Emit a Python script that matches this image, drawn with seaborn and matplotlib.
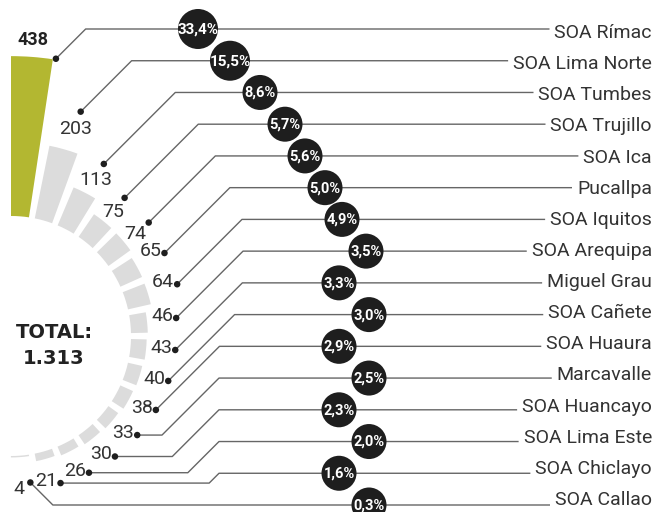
import numpy as np
import pandas as pd
import matplotlib
matplotlib.use("Agg")
import matplotlib.pyplot as plt
import seaborn as sns

offices = ["SOA Rímac", "SOA Lima Norte", "SOA Tumbes", "SOA Trujillo", "SOA Ica",
           "Pucallpa", "SOA Iquitos", "SOA Arequipa", "Miguel Grau", "SOA Cañete",
           "SOA Huaura", "Marcavalle", "SOA Huancayo", "SOA Lima Este",
           "SOA Chiclayo", "SOA Callao"]
counts = [438, 203, 113, 75, 74, 65, 64, 46, 43, 40, 38, 33, 30, 26, 21, 4]
total_label = "1.313"

sns.set_theme(style="white")
plt.rcParams["font.family"] = ["Roboto", "DejaVu Sans"]

df = pd.DataFrame({"office": offices, "count": counts})
total = df["count"].sum()
df["share"] = (100 * df["count"] / total).round(1)
df["share_txt"] = df["share"].map(lambda v: f"{v:.1f}%".replace(".", ","))

# layout (pixels)
W, H = 654, 512
cx, cy = 11, 336          # centre of the half ring
r0 = 120                  # inner radius
k = 0.365                 # pixels per unit
bar_w = np.deg2rad(8.6)
slot = np.deg2rad(11.43)
olive = "#b3b731"
grey = "#dcdcdc"
ink = "#333333"

fig = plt.figure(figsize=(W / 100, H / 100), dpi=100)
ax = fig.add_axes([0, 0, 1, 1])
ax.set_xlim(0, W)
ax.set_ylim(H, 0)
ax.axis("off")

R = 320
pax = fig.add_axes([(cx - R) / W, (H - cy - R) / H, 2 * R / W, 2 * R / H],
                   projection="polar")
pax.set_theta_zero_location("N")
pax.set_theta_direction(-1)
pax.set_ylim(0, R)
pax.axis("off")
pax.patch.set_alpha(0)

n = len(df)
theta = np.arange(n) * slot
colors = [olive] + [grey] * (n - 1)
pax.bar(theta, df["count"] * k, width=bar_w, bottom=r0, align="edge",
        color=colors, edgecolor="none")

# dot positions near each bar
tip = r0 + df["count"].to_numpy() * k
ang = 0.97 * (theta + bar_w / 2) + np.deg2rad(2)
rdot = tip + 26 + 0.2 * (tip - r0)
ang[0] = theta[0] + bar_w + np.deg2rad(0.6)
rdot[0] = tip[0] + 1
df["dx"] = cx + rdot * np.sin(ang)
df["dy"] = cy - rdot * np.cos(ang)

line_y = np.linspace(29, 505, n)
text_y = np.linspace(33, 500, n)
badge_x = [198, 230, 260, 285, 305, 325, 342, 366,
           339, 369, 339, 369, 339, 369, 339, 369]
badge_px = [40, 40] + [35] * (n - 2)
X0 = 219

renderer = fig.canvas.get_renderer()
for i, row in df.iterrows():
    ly = line_y[i]
    t = ax.text(652, text_y[i], row["office"], ha="right", va="center",
                fontsize=14, color=ink)
    bb = t.get_window_extent(renderer)
    x_end = bb.x0 - 5
    dx, dy = row["dx"], row["dy"]
    if dy > ly:
        xh = max(dx, X0 - (dy - ly)) if ang[i] > np.deg2rad(125) else dx
        xs = [dx, xh, xh + (dy - ly), x_end]
        ys = [dy, dy, ly, ly]
    else:
        xs = [dx, dx + (ly - dy), x_end]
        ys = [dy, ly, ly]
    ax.plot(xs, ys, color="#666666", lw=1, zorder=2, solid_capstyle="butt")

    # value labels
    if i == 0:
        lx = cx + (tip[0] + 17) * np.sin(theta[0] + bar_w / 2)
        lyv = cy - (tip[0] + 17) * np.cos(theta[0] + bar_w / 2)
        ax.text(lx, lyv, str(row["count"]), ha="center", va="center",
                fontsize=13, fontweight="bold", color="#222222")
    elif i <= 4:
        vx, vy = cx - dx, cy - dy
        d = np.hypot(vx, vy)
        ax.text(dx + 18 * vx / d, dy + 18 * vy / d, str(row["count"]),
                ha="center", va="center", fontsize=14, color=ink)
    elif i == n - 1:
        ax.text(dx - 6, dy + 7, str(row["count"]), ha="right", va="center",
                fontsize=14, color=ink)
    else:
        ax.text(dx - 3, dy - 2, str(row["count"]), ha="right", va="center",
                fontsize=14, color=ink)

sns.scatterplot(data=df, x="dx", y="dy", ax=ax, color="#1e1e1e", s=22,
                edgecolor="none", legend=False, zorder=3)

sizes = (pd.Series(badge_px) * 0.72) ** 2
ax.scatter(badge_x, line_y, s=sizes, color="#1e1e1e", edgecolor="none", zorder=4)
for i, row in df.iterrows():
    ax.text(badge_x[i], line_y[i] + 0.5, row["share_txt"], ha="center",
            va="center", fontsize=10.5 if i > 1 else 11, fontweight="bold",
            color="white", zorder=5)

ax.text(54, 333, "TOTAL:", ha="center", va="center", fontsize=14,
        fontweight="bold", color="#222222", family="DejaVu Sans")
ax.text(54, 358, total_label, ha="center", va="center", fontsize=14,
        fontweight="bold", color="#222222", family="DejaVu Sans")

fig.savefig("out.png", dpi=100)
